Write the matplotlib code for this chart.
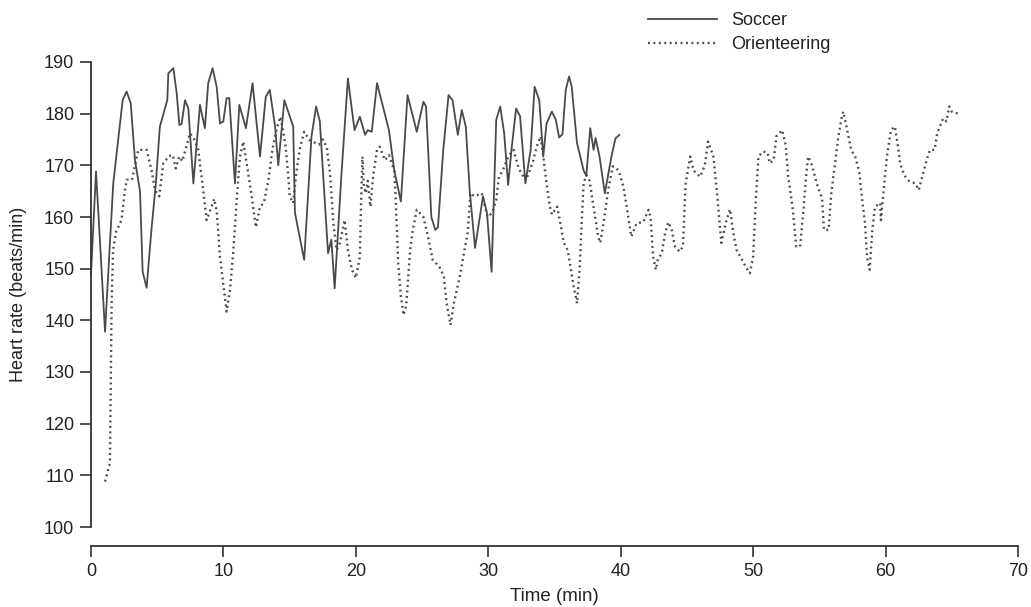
import matplotlib
matplotlib.use("Agg")
import matplotlib.pyplot as plt

# --- data ---
soccer_t = [0.0, 0.38, 1.06, 1.68, 2.39, 2.69, 3.0, 3.32, 3.7, 3.9, 4.2, 4.58, 4.9, 5.2,
            5.76, 5.84, 6.22, 6.47, 6.67, 6.84, 7.1, 7.35, 7.73, 8.23, 8.6, 8.85, 9.18,
            9.49, 9.74, 9.99, 10.24, 10.44, 10.87, 11.2, 11.7, 12.2, 12.76, 13.2, 13.5,
            13.9, 14.14, 14.6, 15.27, 15.4, 16.1, 16.65, 17.0, 17.28, 17.9, 18.15, 18.4,
            18.9, 19.4, 19.9, 20.3, 20.7, 20.9, 21.2, 21.6, 22.5, 22.9, 23.4, 23.9, 24.6,
            25.1, 25.3, 25.7, 26.0, 26.2, 26.6, 27.0, 27.3, 27.7, 28.0, 28.3, 28.6, 29.0,
            29.6, 29.9, 30.25, 30.6, 30.9, 31.2, 31.5, 31.75, 32.1, 32.4, 32.8, 33.2, 33.5,
            33.85, 34.15, 34.4, 34.8, 35.1, 35.35, 35.6, 35.85, 36.1, 36.3, 36.7, 37.2,
            37.4, 37.7, 37.95, 38.1, 38.4, 38.8, 39.3, 39.6, 39.9]
soccer_hr = [149, 168.8, 137.8, 166.5, 182.6, 184.3, 182, 171, 165, 149.4, 146.3, 158,
             166.6, 177.5, 182.6, 187.8, 188.8, 184, 177.8, 178, 182.6, 181, 166.5, 181.7,
             177.2, 185.9, 188.8, 185.2, 178.1, 178.5, 183, 183, 166.5, 181.7, 177.2, 185.9,
             171.7, 183.3, 184.6, 177.5, 170, 182.6, 177.5, 160.8, 151.7, 175.6, 181.4,
             178.5, 153, 155.6, 146.2, 167.8, 186.8, 176.8, 179.4, 175.9, 176.8, 176.5,
             185.9, 176.8, 169, 163, 183.6, 176.5, 182.3, 181.4, 160, 157.5, 158, 173,
             183.6, 182.6, 175.9, 180.7, 177.5, 165, 154, 164, 160.8, 149.4, 178.8, 181.4,
             176.2, 166.2, 173, 181, 179.5, 166.5, 173, 185.2, 182.6, 171.7, 178.1, 180.4,
             178.8, 175.4, 176, 184.6, 187.2, 185.2, 174.3, 169, 168, 177.2, 173, 175.3,
             171.7, 164.6, 171.7, 175.2, 175.9]

orient_t = [1.06, 1.43, 1.56, 1.67, 1.9, 2.3, 2.56, 2.7, 3.1, 3.4, 3.57, 4.2, 4.58, 4.83,
            5.15, 5.46, 5.9, 6.17, 6.4, 6.67, 6.9, 7.2, 7.47, 7.8, 8.1, 8.5, 8.73, 9.1, 9.3,
            9.5, 9.74, 10.1, 10.24, 10.5, 10.75, 11.0, 11.25, 11.5, 11.75, 12.1, 12.45,
            12.76, 13.05, 13.4, 13.7, 14.0, 14.3, 14.5, 14.7, 14.9, 15.0, 15.27, 15.5,
            15.75, 16.1, 16.5, 17.2, 17.5, 17.8, 18.05, 18.3, 18.55, 18.8, 19.15, 19.4,
            19.7, 20.0, 20.3, 20.4, 20.5, 20.6, 20.75, 20.9, 21.1, 21.3, 21.6, 21.8, 22.2,
            22.5, 22.9, 23.0, 23.2, 23.4, 23.6, 23.8, 24.1, 24.3, 24.6, 25.1, 25.45, 25.8,
            26.3, 26.65, 26.85, 27.15, 27.4, 27.85, 28.2, 28.45, 28.65, 28.95, 29.5,
            29.95, 30.3, 30.6, 30.8, 31.1, 31.5, 31.9, 32.3, 32.65, 33.0, 33.4, 33.65,
            33.95, 34.15, 34.4, 34.65, 34.8, 35.2, 35.4, 35.7, 36.0, 36.2, 36.45, 36.7,
            36.9, 37.05, 37.2, 37.4, 37.65, 37.9, 38.3, 38.45, 38.7, 39.05, 39.4, 39.7,
            39.9, 40.2, 40.45, 40.8, 41.2, 41.7, 42.1, 42.25, 42.45, 42.65, 42.8, 43.1,
            43.35, 43.6, 43.85, 44.1, 44.45, 44.7, 44.9, 45.25, 45.5, 46.0, 46.35, 46.6,
            47.0, 47.25, 47.6, 47.95, 48.25, 48.5, 48.75, 49.1, 49.5, 49.75, 50.0, 50.2,
            50.4, 50.75, 51.1, 51.25, 51.55, 51.75, 52.2, 52.45, 52.65, 53.0, 53.25, 53.55,
            53.8, 54.0, 54.15, 54.45, 54.8, 55.2, 55.35, 55.7, 55.9, 56.15, 56.4, 56.65,
            56.8, 57.05, 57.4, 57.7, 58.0, 58.2, 58.45, 58.6, 58.8, 59.0, 59.2, 59.6,
            59.65, 59.9, 60.1, 60.4, 60.7, 60.9, 61.1, 61.4, 61.8, 62.25, 62.5, 62.8, 63.1,
            63.35, 63.7, 63.9, 64.1, 64.35, 64.6, 64.8, 65.0, 65.3, 65.7]
orient_hr = [108.8, 112.4, 144, 153.6, 157.2, 159.4, 165.2, 167.2, 167.2, 171, 173, 173,
             169, 165.2, 164, 170.4, 171.8, 172, 169.4, 171.7, 170.8, 173.6, 176.2, 175,
             173, 164.6, 159.4, 162, 163.5, 161, 152.3, 144.6, 141.7, 146, 153.6, 163.3,
             171.7, 174.6, 170.4, 164.6, 158, 162, 162.7, 167.2, 173, 176.8, 179.4, 176.8,
             173.6, 167.8, 164, 162.7, 168.5, 173, 176.5, 174.9, 174, 175, 173.6, 168.5,
             158.8, 153.6, 155, 159.4, 153.6, 149.8, 148.2, 152.3, 163.3, 171.7, 166,
             164.6, 167, 162, 167.8, 173, 173.6, 171, 172, 169, 164, 151, 144.6, 141,
             142.8, 153.6, 157.5, 161.4, 160, 156.2, 151.7, 150.4, 148.5, 143.3, 139.1,
             143.3, 148.5, 153.6, 157, 164.6, 164, 164.6, 160, 160.8, 163.3, 167.8, 169,
             171.7, 173, 169.4, 167.8, 168, 171, 173.6, 175.6, 171.7, 166.5, 162, 160.5,
             162, 159.4, 155, 153.6, 150.4, 146.5, 143.3, 150, 158.8, 166.5, 168.1, 167,
             162.7, 156.2, 155, 158.8, 165.2, 169.8, 169.4, 168.5, 165.9, 162, 156.2,
             158.8, 159, 161.4, 160, 152.3, 149.8, 151.7, 153, 156.9, 159, 157.5, 154.3,
             153.3, 154.3, 166.5, 171.7, 169, 167.8, 170, 174.6, 171.7, 165.2, 155, 159,
             161.5, 157, 153.6, 152, 150.1, 149.1, 152.3, 163.3, 171.7, 172.7, 172.4,
             170.4, 171, 175.6, 176.8, 174, 167.8, 161.4, 154.3, 154.3, 161.4, 167.8,
             171.7, 170, 166.5, 163.6, 157.5, 157.5, 164.6, 169.8, 174.9, 178.8, 180.4,
             177.5, 173, 171.7, 169, 164, 158.8, 152.3, 149.8, 157.5, 162, 162.7, 159.4,
             166.5, 171.7, 176.8, 177.5, 174.3, 170.4, 168.1, 166.9, 166.5, 165.2, 168.1,
             171, 173, 173, 176.2, 177.5, 179.1, 178.5, 181.4, 180.4, 180.1, 180.1]

x_ticks = [0, 10, 20, 30, 40, 50, 60, 70]
y_ticks = [100, 110, 120, 130, 140, 150, 160, 170, 180, 190]

plt.rcParams['font.family'] = ['Liberation Sans', 'DejaVu Sans']

fig = plt.figure(figsize=(10.31, 6.07), dpi=100)
ax = fig.add_axes([91 / 1031, 80 / 607, 927 / 1031, 465 / 607])

line_col = '#4a4a4a'
ax.plot(soccer_t, soccer_hr, color=line_col, lw=1.3, label='Soccer', clip_on=False)
ax.plot(orient_t, orient_hr, color=line_col, lw=1.7, linestyle=(0, (0.8, 1.5)),
        label='Orienteering', clip_on=False)

ax.set_xlim(0, 70)
ax.set_ylim(100, 190)
ax.set_xticks(x_ticks)
ax.set_yticks(y_ticks)

for s in ['top', 'right']:
    ax.spines[s].set_visible(False)
ax.spines['bottom'].set_position(('outward', 14))
for s in ['left', 'bottom']:
    ax.spines[s].set_color('#333333')
    ax.spines[s].set_linewidth(1.3)

ax.tick_params(axis='both', direction='out', length=8, width=1.2, color='#333333',
               labelsize=13, labelcolor='#222222', pad=4)

ax.set_xlabel('Time (min)', fontsize=13.5, color='#222222', labelpad=6)
ax.set_ylabel('Heart rate (beats/min)', fontsize=13, color='#222222', labelpad=12)

fig.legend(loc='upper left', bbox_to_anchor=(632 / 1031, 1 + 4 / 607), frameon=False,
           fontsize=13, handlelength=3.8, handletextpad=0.8, labelspacing=0.4,
           labelcolor='#222222')

plt.savefig('out.png', dpi=100)
